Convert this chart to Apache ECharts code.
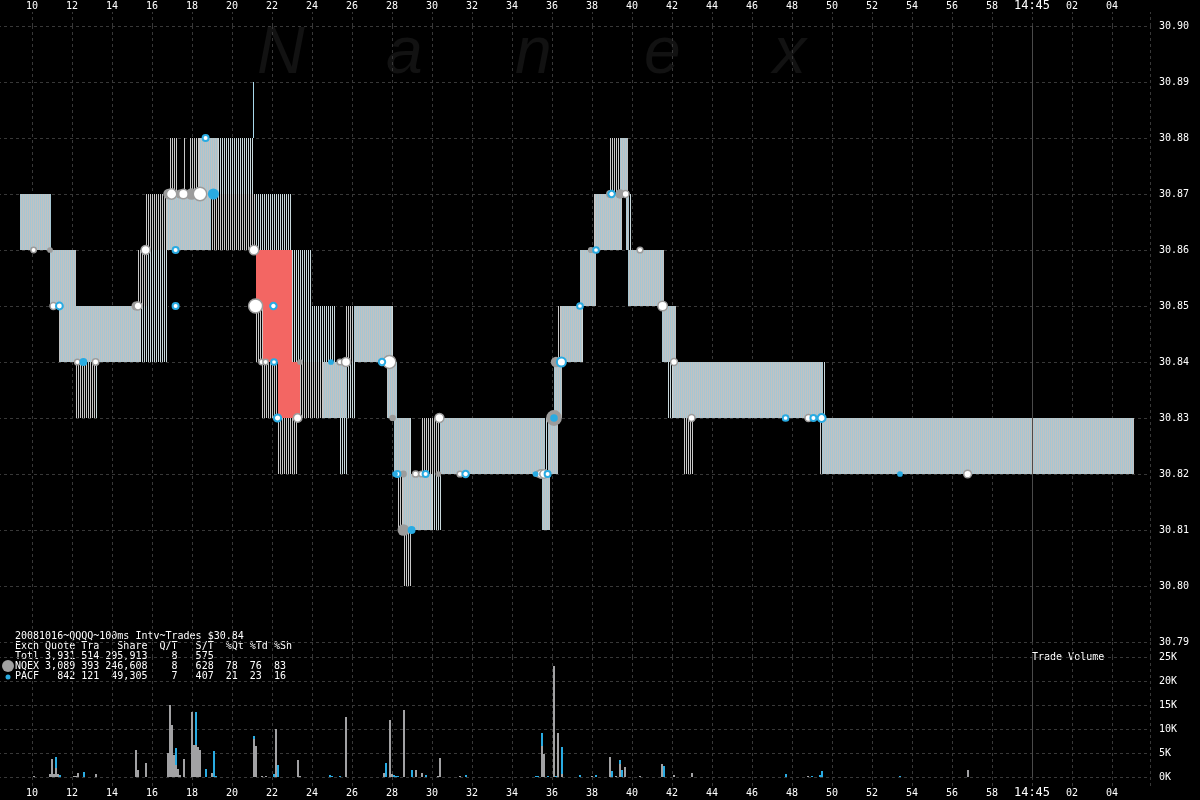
<!DOCTYPE html>
<html><head><meta charset="utf-8">
<style>html,body{margin:0;padding:0;background:#000;}#c{width:1200px;height:800px;}</style>
<script src="https://cdn.jsdelivr.net/npm/echarts@6/dist/echarts.min.js"></script>
</head><body><div id="c"></div>
<script>
// ---- DATA (time = seconds after 14:44:00) ----
const priceMin = 30.79, priceMax = 30.90, priceStep = 0.01;
const volMax = 25000, volStep = 5000;
// quote spread blocks: [tStart, tEnd, low, high]
const solidSegs = [
  [9.4,10.95,30.86,30.87],[10.9,12.2,30.85,30.86],[11.35,15.4,30.84,30.85],
  [16.75,18.95,30.86,30.87],[18.35,19.3,30.87,30.88],[24.55,25.75,30.83,30.84],
  [26.1,28.0,30.84,30.85],[27.75,28.25,30.83,30.84],[28.1,28.9,30.82,30.83],
  [30.4,35.65,30.82,30.83],[35.8,36.3,30.82,30.83],[28.55,30.0,30.81,30.82],
  [35.5,35.9,30.81,30.82],[36.1,36.5,30.83,30.84],[36.45,37.5,30.84,30.85],
  [37.4,38.2,30.85,30.86],[38.15,39.5,30.86,30.87],[39.7,39.85,30.86,30.87],
  [39.4,39.8,30.87,30.88],[39.8,41.6,30.85,30.86],[41.5,42.2,30.84,30.85],
  [42.05,49.55,30.83,30.84],[49.5,65.1,30.82,30.83]
];
const greyStripeSegs = [
  [12.2,13.15,30.83,30.84],[15.3,15.8,30.85,30.86],[15.7,16.75,30.86,30.87],
  [18.95,21.15,30.86,30.87],[16.9,17.3,30.87,30.88],[17.6,17.65,30.87,30.88],
  [17.9,18.35,30.87,30.88],[21.2,21.55,30.84,30.85],[21.5,22.3,30.83,30.84],
  [23.4,24.55,30.83,30.84],[22.25,23.3,30.82,30.83],[25.7,26.1,30.84,30.85],
  [29.5,30.4,30.82,30.83],[28.3,28.55,30.81,30.82],[28.55,29.0,30.80,30.81],
  [36.3,36.45,30.84,30.85],[38.05,38.15,30.86,30.87],[38.9,39.4,30.87,30.88],
  [42.6,43.05,30.82,30.83],[49.4,49.5,30.82,30.83]
];
const blueStripeSegs = [
  [13.15,13.25,30.83,30.84],[15.4,16.8,30.84,30.85],[15.8,16.8,30.85,30.86],
  [21.15,23.0,30.86,30.87],[19.3,21.05,30.87,30.88],[21.05,21.1,30.88,30.89],
  [23.0,24.0,30.85,30.86],[23.0,25.2,30.84,30.85],[25.75,26.2,30.83,30.84],
  [25.35,25.75,30.82,30.83],[28.0,28.1,30.84,30.85],[28.9,29.0,30.82,30.83],
  [35.65,35.8,30.82,30.83],[30.0,30.5,30.81,30.82],[37.5,37.6,30.84,30.85],
  [39.85,40.0,30.86,30.87],[41.75,42.05,30.83,30.84],[49.55,49.65,30.83,30.84]
];
const crossedSegs = [
  [21.2,23.0,30.85,30.86],[21.55,23.0,30.84,30.85],[22.3,23.4,30.83,30.84]
];
// trades: [t, price, shares]
const nqGreyTrades = [
  [10.9,30.86,300],[15.2,30.85,2500],[16.82,30.87,4000],[17.4,30.87,2500],[17.98,30.87,6000],
  [22.25,30.83,1500],[23.4,30.84,300],[28.03,30.83,600],[28.57,30.82,800],[30.32,30.82,300],
  [28.57,30.81,6000],[35.3,30.82,1000],[36.1,30.83,14000],[36.2,30.84,4000],[37.95,30.86,500],
  [38.9,30.87,1500],[39.4,30.87,3000]
];
const nqWhiteTrades = [
  [10.08,30.86,200],[11.07,30.85,800],[12.27,30.84,300],[13.18,30.84,600],[15.3,30.85,1500],
  [15.68,30.86,2500],[16.98,30.87,4000],[17.57,30.87,3000],[18.4,30.87,9000],[21.1,30.86,3000],
  [21.18,30.85,10000],[21.48,30.84,200],[21.68,30.84,200],[23.28,30.83,2000],[25.4,30.84,300],
  [25.7,30.84,2500],[27.87,30.84,8000],[30.37,30.83,2500],[29.18,30.82,500],[29.48,30.82,300],
  [31.4,30.82,300],[35.45,30.82,2000],[35.6,30.82,2000],[39.68,30.87,800],[40.4,30.86,300],
  [41.53,30.85,3000],[42.1,30.84,800],[42.98,30.83,800],[48.82,30.83,800],[56.78,30.82,1400]
];
const paRingTrades = [
  [11.37,30.85,800],[17.18,30.86,400],[17.18,30.85,400],[18.68,30.88,400],[22.07,30.85,600],
  [22.1,30.84,300],[22.28,30.83,1000],[27.5,30.84,600],[28.27,30.82,400],[29.68,30.82,400],
  [31.68,30.82,600],[35.78,30.82,400],[36.47,30.84,2500],[37.4,30.85,300],[38.2,30.86,300],
  [38.98,30.87,600],[47.68,30.83,300],[49.07,30.83,400],[49.48,30.83,1500]
];
const paFillTrades = [
  [12.57,30.84,1500],[19.07,30.87,5000],[24.95,30.84,300],[28.15,30.82,300],[28.98,30.81,1500],
  [35.18,30.82,300],[36.1,30.83,1200],[53.4,30.82,300]
];
// trade volume per 100ms: time, NQEX shares, PACF shares
const volT  = [10.1,10.9,11.0,11.1,11.2,11.3,11.4,12.1,12.2,12.3,12.6,13.2,15.2,15.3,15.7,16.8,16.9,17.0,17.1,17.2,17.3,17.4,17.6,18.0,18.1,18.2,18.3,18.4,18.7,19.0,19.1,19.2,21.1,21.2,21.5,21.7,22.1,22.2,22.3,23.3,23.4,24.9,25.0,25.4,25.7,27.6,27.7,27.9,28.0,28.1,28.2,28.3,28.6,29.0,29.2,29.5,29.7,30.3,30.4,31.4,31.7,35.2,35.3,35.5,35.6,35.8,36.1,36.2,36.3,36.5,37.4,38.0,38.2,38.9,39.0,39.2,39.4,39.5,39.65,40.4,41.5,41.6,42.1,43.0,47.7,48.8,49.0,49.4,49.5,53.4,56.8];
const volNQ = [100,700,3800,700,1900,700,0,100,100,900,0,700,5700,1500,3000,4900,14900,10900,4500,2600,1700,500,3800,13600,6700,6700,6300,5700,0,900,0,0,8000,6500,100,100,0,9900,0,3600,200,0,0,0,12500,800,0,11900,600,0,0,0,14000,0,1500,800,0,100,4000,100,0,0,0,6500,4800,0,23100,0,9200,600,0,200,0,4100,0,100,2800,0,2000,100,2800,0,350,800,0,100,0,0,0,0,1400];
const volPA = [0,0,0,0,2200,0,500,0,0,0,1100,0,0,0,0,0,0,0,0,3500,0,0,0,0,0,6900,0,0,1700,0,5500,100,600,0,0,0,700,0,2600,0,0,400,100,100,0,0,2900,0,0,400,100,100,0,1500,0,0,400,0,0,0,400,100,100,2700,0,200,0,100,0,5600,400,0,400,0,1200,0,800,1400,0,0,0,2200,0,0,550,0,200,350,1200,300,0];
const legendLines = [
  '20081016~QQQQ~100ms Intv~Trades $30.84',
  'Exch Quote Tra   Share  Q/T   S/T  %Qt %Td %Sh',
  'Totl 3,931 514 295,913    8   575',
  'NQEX 3,089 393 246,608    8   628  78  76  83',
  'PACF   842 121  49,305    7   407  21  23  16'
];
const watermark = ['N','a','n','e','x'];

// ---- STYLE HELPERS ----
function stripe(c1, c2) {
  const cv = document.createElement('canvas');
  cv.width = 2; cv.height = 1;
  const ctx = cv.getContext('2d');
  ctx.fillStyle = c1; ctx.fillRect(0, 0, 1, 1);
  ctx.fillStyle = c2; ctx.fillRect(1, 0, 1, 1);
  return { image: cv, repeat: 'repeat' };
}
const MONO = '"DejaVu Sans Mono", monospace';
const GRID_C = '#383838';
const BLUE = '#29abe2';
function segSeries(data, fill, thinColor) {
  return {
    type: 'custom', xAxisIndex: 0, yAxisIndex: 0, data: data,
    encode: { x: [0, 1], y: [2, 3] }, clip: true,
    renderItem: function (params, api) {
      const a = api.coord([api.value(0), api.value(3)]);
      const b = api.coord([api.value(1), api.value(2)]);
      const x0 = Math.round(a[0]), x1 = Math.round(b[0]);
      const y0 = Math.round(a[1]), y1 = Math.round(b[1]);
      const w = Math.max(1, x1 - x0);
      return { type: 'rect', shape: { x: x0, y: y0, width: w, height: y1 - y0 },
        style: { fill: w <= 1 ? thinColor : fill } };
    }
  };
}
function sizeOf(v) { return Math.min(16, 4 + Math.sqrt(v) / 10); }
function tradeSeries(data, color, border, bw) {
  return {
    type: 'scatter', xAxisIndex: 0, yAxisIndex: 0, data: data,
    symbol: 'circle', symbolSize: function (val) { return sizeOf(val[2]); },
    itemStyle: { color: color, borderColor: border, borderWidth: bw, opacity: 1 },
    emphasis: { disabled: true }
  };
}
function timeLabel(v) {
  if (v < 10 || v > 64.5) return '';
  if (Math.abs(v - 60) < 1e-6) return '{b|14:45}';
  const s = v > 60 ? v - 60 : v;
  return String(Math.round(s)).padStart(2, '0');
}
const lineMark = {
  silent: true, symbol: ['none', 'none'], label: { show: false },
  lineStyle: { color: '#4a4a4a', type: 'solid', width: 1 }, data: [{ xAxis: 60 }]
};

const volRows = volT.map(function (t, i) { return [t, volNQ[i], volPA[i]]; });

const chart = echarts.init(document.getElementById('c'), null, { renderer: 'canvas' });
const splitStyle = { color: GRID_C, type: [3, 3], width: 1 };
const xBase = { type: 'value', min: 8, max: 65.9, interval: 2, axisLine: { show: false } };
const richB = { b: { fontSize: 12, lineHeight: 10, color: '#fff', fontFamily: MONO } };
const graphics = [];
watermark.forEach(function (ch, i) {
  graphics.push({ type: 'text', left: 257 + i * 129, top: 22, silent: true, z: -10,
    style: { text: ch, fill: '#121212', font: 'italic 66px "Liberation Sans", Arial, sans-serif' } });
});
graphics.push({ type: 'text', left: 15, top: 631, silent: true,
  style: { text: legendLines.join('\n'), fill: '#fff', font: '10px ' + MONO, lineHeight: 10 } });
graphics.push({ type: 'circle', shape: { cx: 8, cy: 666, r: 6 }, style: { fill: '#a0a0a0' }, silent: true });
graphics.push({ type: 'circle', shape: { cx: 8, cy: 677, r: 2.5 }, style: { fill: BLUE }, silent: true });
graphics.push({ type: 'text', left: 1032, top: 652, silent: true,
  style: { text: 'Trade Volume', fill: '#fff', font: '10px ' + MONO } });

chart.setOption({
  backgroundColor: '#000',
  animation: false,
  graphic: graphics,
  grid: [
    { left: -8, right: 50, top: 26, height: 616, outerBoundsMode: 'none', containLabel: false },
    { left: -8, right: 50, top: 657, height: 120, outerBoundsMode: 'none', containLabel: false }
  ],
  xAxis: [
    Object.assign({}, xBase, { gridIndex: 0, position: 'top',
      axisTick: { show: true, length: 14, lineStyle: splitStyle },
      axisLabel: { margin: 15, color: '#fff', fontSize: 10, fontFamily: MONO, formatter: timeLabel, rich: richB },
      splitLine: { show: true, lineStyle: splitStyle } }),
    Object.assign({}, xBase, { gridIndex: 1, position: 'bottom',
      axisTick: { show: true, length: 9, lineStyle: splitStyle },
      axisLabel: { margin: 11, color: '#fff', fontSize: 10, fontFamily: MONO, formatter: timeLabel, rich: richB },
      splitLine: { show: true, lineStyle: splitStyle } }),
    Object.assign({}, xBase, { gridIndex: 1, position: 'top',
      axisTick: { show: true, length: 15, lineStyle: splitStyle },
      axisLabel: { show: false }, splitLine: { show: false } })
  ],
  yAxis: [
    { gridIndex: 0, type: 'value', position: 'right', min: priceMin, max: priceMax, interval: priceStep,
      axisLine: { show: false }, axisTick: { show: false },
      axisLabel: { margin: 9, color: '#fff', fontSize: 10, fontFamily: MONO,
        formatter: function (v) { return v.toFixed(2); } },
      splitLine: { show: true, lineStyle: splitStyle } },
    { gridIndex: 1, type: 'value', position: 'right', min: 0, max: volMax, interval: volStep,
      axisLine: { show: false }, axisTick: { show: false },
      axisLabel: { margin: 9, color: '#fff', fontSize: 10, fontFamily: MONO,
        formatter: function (v) { return Math.round(v / 1000) + 'K'; } },
      splitLine: { show: true, lineStyle: splitStyle } }
  ],
  series: [
    Object.assign(segSeries(greyStripeSegs, stripe('#c8c8c8', '#000'), '#c8c8c8'), { markLine: lineMark }),
    segSeries(blueStripeSegs, stripe('#c8d8dc', '#000'), '#a8d8ea'),
    segSeries(solidSegs, stripe('#a6c6d2', '#c2c2c2'), '#b0c4cc'),
    segSeries(crossedSegs, '#f36663', '#f36663'),
    tradeSeries(nqGreyTrades, '#9c9c9c', '#9c9c9c', 0),
    tradeSeries(nqWhiteTrades, '#ffffff', '#9c9c9c', 1.5),
    tradeSeries(paRingTrades, '#ffffff', BLUE, 2),
    tradeSeries(paFillTrades, BLUE, BLUE, 0),
    {
      type: 'custom', xAxisIndex: 1, yAxisIndex: 1, data: volRows,
      encode: { x: 0, y: [1, 2] }, markLine: lineMark,
      renderItem: function (params, api) {
        const t = api.value(0), nq = api.value(1), pa = api.value(2);
        const w = Math.max(1, Math.round(api.size([0.1, 0])[0]));
        const base = api.coord([t, 0]);
        const x = Math.round(base[0] - w / 2);
        const y0 = Math.round(base[1]);
        const yN = Math.round(api.coord([t, nq])[1]);
        const yT = Math.round(api.coord([t, nq + pa])[1]);
        const kids = [];
        if (nq > 0) kids.push({ type: 'rect', shape: { x: x, y: Math.min(yN, y0 - 1), width: w, height: Math.max(1, y0 - yN) }, style: { fill: '#a2a2a4' } });
        if (pa > 0) kids.push({ type: 'rect', shape: { x: x, y: Math.min(yT, yN - 1), width: w, height: Math.max(1, yN - yT) }, style: { fill: BLUE } });
        return { type: 'group', children: kids };
      }
    }
  ]
});
</script>
</body></html>
